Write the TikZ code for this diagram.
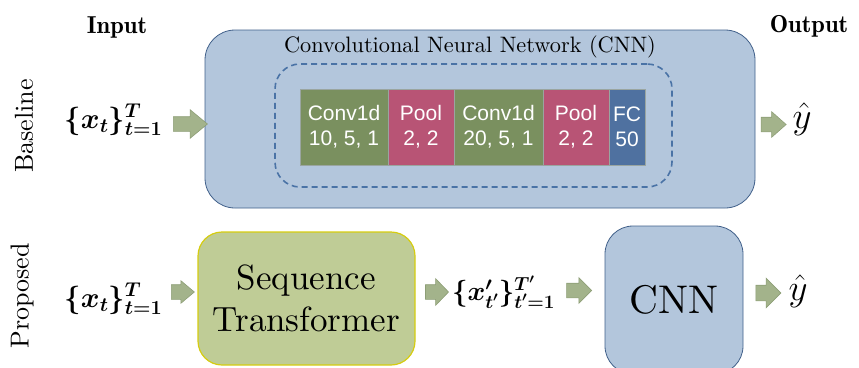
\RequirePackage{fix-cm}
\documentclass[tikz,border=0pt]{standalone}
\usepackage{amsmath,bm}
\usepackage{fontspec}
% the 10pt design of Latin Modern at every size
\setmainfont{lmroman10}[Extension=.otf, UprightFont=*-regular,
  BoldFont=*-bold, ItalicFont=*-italic, BoldItalicFont=*-bolditalic]
\newfontfamily\demifont{lmromandemi10-regular}[Extension=.otf]
\newfontfamily\blockfont{Liberation Sans}
\usetikzlibrary{shapes.arrows}

\definecolor{boxblue}{HTML}{B3C6DC}
\definecolor{boxedge}{HTML}{41608A}
\definecolor{dashblue}{HTML}{4A73A6}
\definecolor{convgreen}{HTML}{7A905F}
\definecolor{poolpink}{HTML}{B85475}
\definecolor{fcblue}{HTML}{4F71A0}
\definecolor{layeredge}{HTML}{9AA5A0}
\definecolor{stfill}{HTML}{BFCC96}
\definecolor{stedge}{HTML}{D6CC10}
\definecolor{arrowfill}{HTML}{A3B38B}
\definecolor{arrowedge}{HTML}{8D9E76}

% shaft thickness of a block arrow is set by the height of its strut
\newcommand{\shaft}[1]{\rule{0pt}{#1pt}}

\tikzset{
  heading/.style={font=\demifont\fontsize{24.5}{28}\selectfont, anchor=base},
  rowlabel/.style={font=\fontsize{26}{30}\selectfont, rotate=90},
  mathlabel/.style={font=\fontsize{#1}{32}\selectfont, anchor=base, inner sep=0pt},
  mathlabel/.default=28.5,
  outlabel/.style={font=\fontsize{37}{41}\selectfont, anchor=base, inner sep=0pt},
  roundbox/.style={draw=boxedge, fill=boxblue, line width=0.8pt, rounded corners=#1},
  layer/.style={draw=layeredge, line width=0.6pt, minimum height=76pt, inner sep=0pt,
    text=white, align=center, font=\blockfont\fontsize{21}{25}\selectfont},
  blockarrow/.style args={#1/#2/#3}{single arrow, draw=arrowedge, fill=arrowfill,
    line width=0.6pt, inner sep=0pt, minimum height=#1pt,
    single arrow head extend=#2pt, single arrow tip angle=#3},
}

\begin{document}
\begin{tikzpicture}[x=1pt, y=-1pt]
\useasboundingbox (0,0) rectangle (859,367);
\clip (0,0) rectangle (859,367);

% column headings and row labels
\node[heading] (input) at (117,33) {Input};
\node[heading] (output) at (809,32) {Output};
\node[rowlabel] (baseline) at (24,126) {Baseline};
\node[rowlabel] (proposed) at (22,296) {Proposed};

% baseline: the full CNN
\node[roundbox=30pt, minimum width=550pt, minimum height=178pt] (cnnbig) at (480,119) {};
\node[font=\fontsize{22.3}{26}\selectfont] (cnntitle) at (470,47) {Convolutional Neural Network (CNN)};
\node[draw=dashblue, dashed, dash pattern=on 6pt off 4pt, line width=1.6pt,
  rounded corners=25pt, minimum width=397pt, minimum height=123pt] (layers) at (473.5,125.5) {};

\node[layer, fill=convgreen, minimum width=88pt] (conv1) at (344,127) {Conv1d\\10, 5, 1};
\node[layer, fill=poolpink, minimum width=66pt] (pool1) at (421,127) {Pool\\2, 2};
\node[layer, fill=convgreen, minimum width=89pt] (conv2) at (498.5,127) {Conv1d\\20, 5, 1};
\node[layer, fill=poolpink, minimum width=66pt] (pool2) at (576,127) {Pool\\2, 2};
\node[layer, fill=fcblue, minimum width=36pt] (fc) at (627,127) {FC\\50};

\node[mathlabel] (xin1) at (113.5,128) {$\bm{\{x_t\}_{t=1}^{T}}$};
\node[blockarrow=34/7/79] (a1) at (186,124) {\shaft{14}};
\node[blockarrow=25/5.5/83] (a2) at (769.5,124.5) {\shaft{14}};
\node[outlabel] (yhat1) at (802,128) {$\hat{y}$};

% proposed: sequence transformer followed by the CNN
\node[mathlabel] (xin2) at (113.5,307) {$\bm{\{x_t\}_{t=1}^{T}}$};
\node[blockarrow=23/4/80] (a3) at (178.5,292) {\shaft{14}};
\node[draw=stedge, fill=stfill, line width=1.2pt, rounded corners=24pt,
  minimum width=217pt, minimum height=133pt, align=center,
  font=\fontsize{35}{42}\selectfont] (st) at (306.5,298.5) {Sequence\\Transformer};
\node[blockarrow=23/6/92] (a4) at (433.5,292) {\shaft{14}};
\node[mathlabel=27] (xmid) at (503.5,300) {$\bm{\{x'_{t'}\}_{t'=1}^{T'}}$};
\node[blockarrow=25/5.5/90] (a5) at (575.5,290.5) {\shaft{14}};
\node[roundbox=28pt, minimum width=138pt, minimum height=148pt,
  font=\fontsize{40}{44}\selectfont] (cnnsmall) at (674,300) {CNN};
\node[blockarrow=25/7/90] (a6) at (764.5,293) {\shaft{15}};
\node[outlabel] (yhat2) at (798,300) {$\hat{y}$};
\end{tikzpicture}
\end{document}
